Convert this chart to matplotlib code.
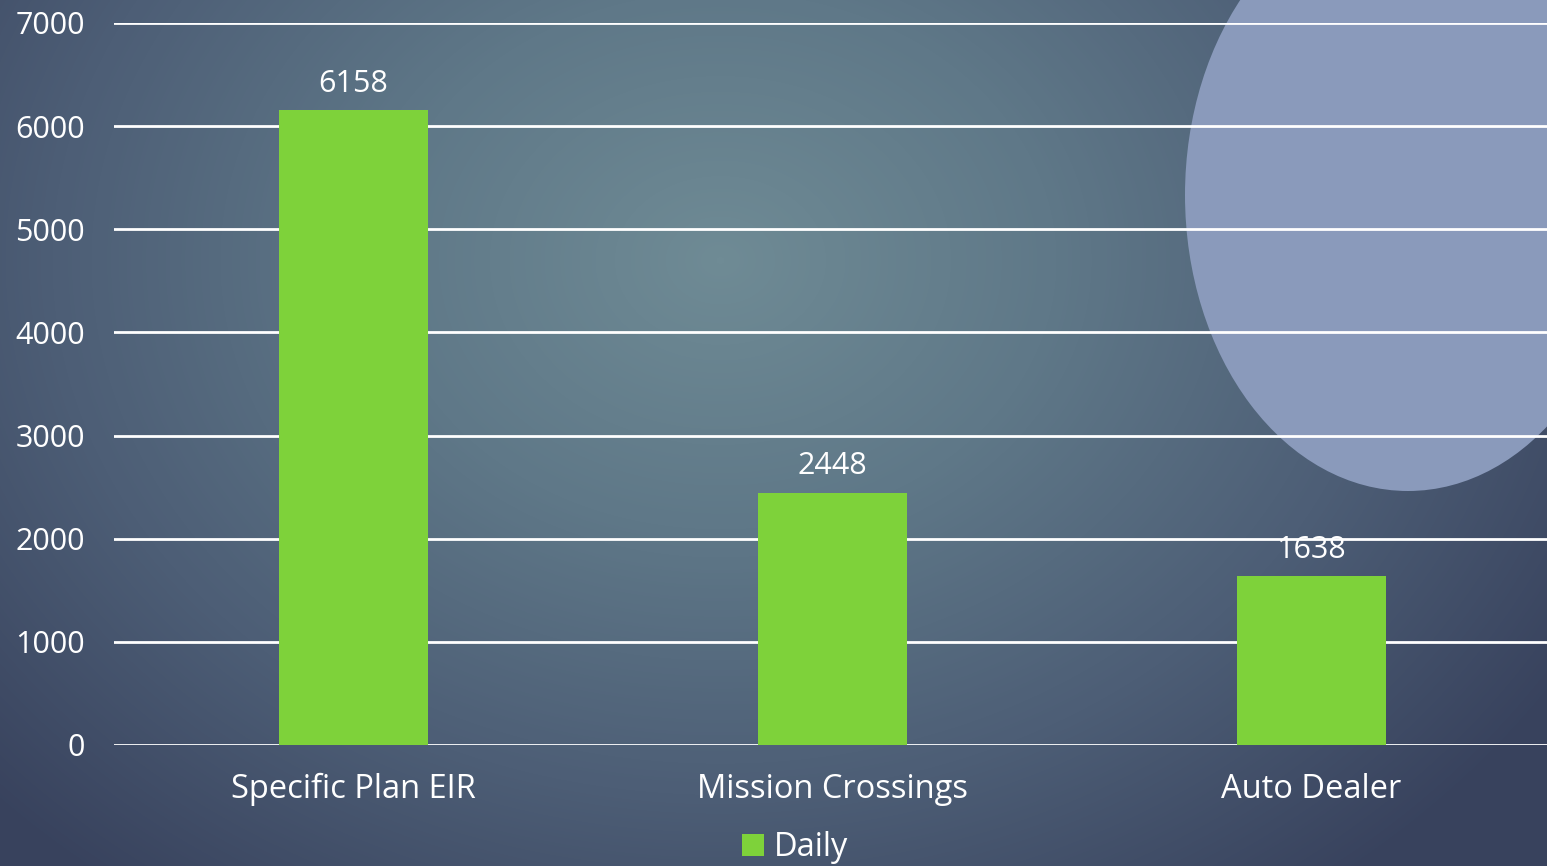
import numpy as np
import matplotlib
matplotlib.use("Agg")
import matplotlib.pyplot as plt
from matplotlib.patches import Ellipse
from matplotlib.colors import LinearSegmentedColormap

categories = ["Specific Plan EIR", "Mission Crossings", "Auto Dealer"]
daily = [6158, 2448, 1638]
series_name = "Daily"
yticks = [0, 1000, 2000, 3000, 4000, 5000, 6000, 7000]

plt.rcParams['font.family'] = ['Open Sans', 'DejaVu Sans']

W, H = 1547, 866
fig = plt.figure(figsize=(W / 100, H / 100), dpi=100)

# background: radial gradient
bg = fig.add_axes([0, 0, 1, 1])
yy, xx = np.mgrid[0:H, 0:W]
r = np.sqrt(((xx - 720) / 1000.0) ** 2 + ((yy - 260) / 800.0) ** 2)
r = np.clip(r, 0, 1)
cmap = LinearSegmentedColormap.from_list("bg", ["#6f8b95", "#5f7888", "#4d5e76", "#38425d"])
bg.imshow(r, cmap=cmap, extent=[0, W, H, 0], aspect="auto", vmin=0, vmax=1)
bg.add_patch(Ellipse((1408, 195), 446, 592, color="#8a9abb", lw=0))
bg.set_xlim(0, W)
bg.set_ylim(H, 0)
bg.axis("off")

ax = fig.add_axes([114 / W, 1 - 745 / H, 1437 / W, (745 - 23) / H])
ax.patch.set_alpha(0)
x = np.arange(len(categories))
bars = ax.bar(x, daily, width=0.313, color="#7ed23a", zorder=3, label=series_name)
for b, v in zip(bars, daily):
    ax.text(b.get_x() + b.get_width() / 2, v + 110, str(v), ha="center", va="bottom",
            color="white", fontsize=22, zorder=4)

ax.set_xlim(-0.5, 2.5)
ax.set_ylim(0, 7000)
ax.set_yticks(yticks)
ax.set_yticklabels([str(t) for t in yticks])
ax.set_xticks(x)
ax.set_xticklabels(categories)
ax.grid(axis="y", color="white", lw=2, zorder=1)
for s in ax.spines.values():
    s.set_visible(False)
ax.tick_params(axis="both", length=0, colors="white")
ax.tick_params(axis="y", pad=21, labelsize=22)
ax.tick_params(axis="x", pad=20, labelsize=23.5)

leg = fig.legend(handles=[bars], labels=[series_name], loc="center", bbox_to_anchor=(0.514, 1 - 848 / H),
                 frameon=False, fontsize=23.5, labelcolor="white", handlelength=0.65, handleheight=0.65,
                 handletextpad=0.3)

fig.savefig("out.png", dpi=100)
